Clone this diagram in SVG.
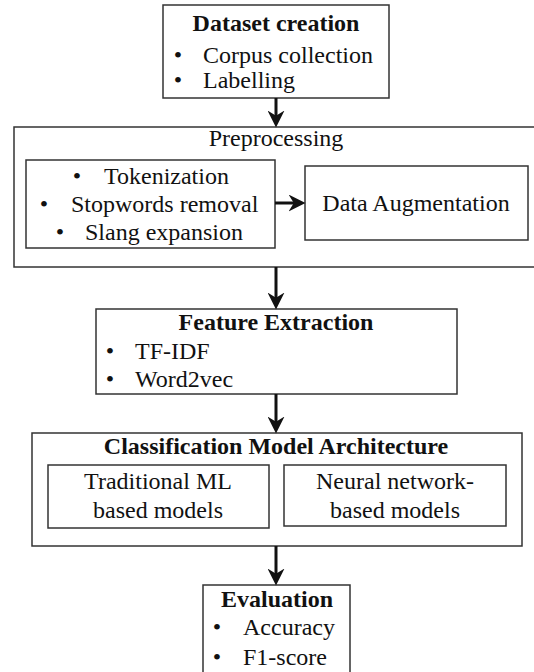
<svg xmlns="http://www.w3.org/2000/svg" width="534" height="672" viewBox="0 0 534 672" font-family="Liberation Serif, Times New Roman, serif" font-size="24">
<defs>
<marker id="ah" viewBox="0 0 16 16" refX="8" refY="8" markerWidth="17" markerHeight="17" markerUnits="userSpaceOnUse" orient="auto">
<path d="M0,0 L16,8 L0,16 L5,8 Z" fill="#111"/>
</marker>
<style>
.box{fill:#fff;stroke:#333;stroke-width:1.5}
text{fill:#111}
.b{font-weight:bold}
.m{text-anchor:middle}
.c{stroke:#111;stroke-width:3;fill:none;marker-end:url(#ah)}
</style>
</defs>
<rect width="534" height="672" fill="#fff"/>
<g id="dataset">
<rect class="box" x="163" y="5" width="226" height="93"/>
<text class="b m" x="276" y="31">Dataset creation</text>
<text class="m" x="178" y="63">•</text><text x="203" y="63">Corpus collection</text>
<text class="m" x="178" y="88">•</text><text x="203" y="88">Labelling</text>
</g>
<g id="preprocessing">
<rect class="box" x="14" y="127" width="530" height="140"/>
<text class="m" x="276" y="146">Preprocessing</text>
</g>
<g id="cleaning">
<rect class="box" x="26" y="160" width="249" height="88"/>
<text class="m" x="77" y="184">•</text><text x="104" y="184">Tokenization</text>
<text class="m" x="44" y="212">•</text><text x="71" y="212">Stopwords removal</text>
<text class="m" x="60" y="240">•</text><text x="85" y="240">Slang expansion</text>
</g>
<g id="augmentation">
<rect class="box" x="305" y="166" width="223" height="74"/>
<text class="m" x="416" y="211">Data Augmentation</text>
</g>
<g id="features">
<rect class="box" x="96" y="309" width="361" height="85"/>
<text class="b m" x="276" y="330">Feature Extraction</text>
<text class="m" x="110" y="359">•</text><text x="135" y="359">TF-IDF</text>
<text class="m" x="110" y="387">•</text><text x="135" y="387">Word2vec</text>
</g>
<g id="classification">
<rect class="box" x="32" y="433" width="490" height="113"/>
<text class="b m" x="276" y="454">Classification Model Architecture</text>
</g>
<g id="traditional">
<rect class="box" x="48" y="465" width="221" height="63"/>
<text class="m" x="158" y="489">Traditional ML</text>
<text class="m" x="158" y="518">based models</text>
</g>
<g id="neural">
<rect class="box" x="284" y="465" width="222" height="61"/>
<text class="m" x="395" y="489">Neural network-</text>
<text class="m" x="395" y="518">based models</text>
</g>
<g id="evaluation">
<rect class="box" x="203" y="585" width="147" height="95"/>
<text class="b m" x="277" y="607">Evaluation</text>
<text class="m" x="217" y="635">•</text><text x="243" y="635">Accuracy</text>
<text class="m" x="217" y="665">•</text><text x="243" y="665">F1-score</text>
</g>
<g id="connectors">
<line class="c" x1="276" y1="98" x2="276" y2="119"/>
<line class="c" x1="275" y1="203" x2="297" y2="203"/>
<line class="c" x1="276" y1="267" x2="276" y2="301"/>
<line class="c" x1="276" y1="394" x2="276" y2="425"/>
<line class="c" x1="276" y1="546" x2="276" y2="577"/>
</g>
</svg>
